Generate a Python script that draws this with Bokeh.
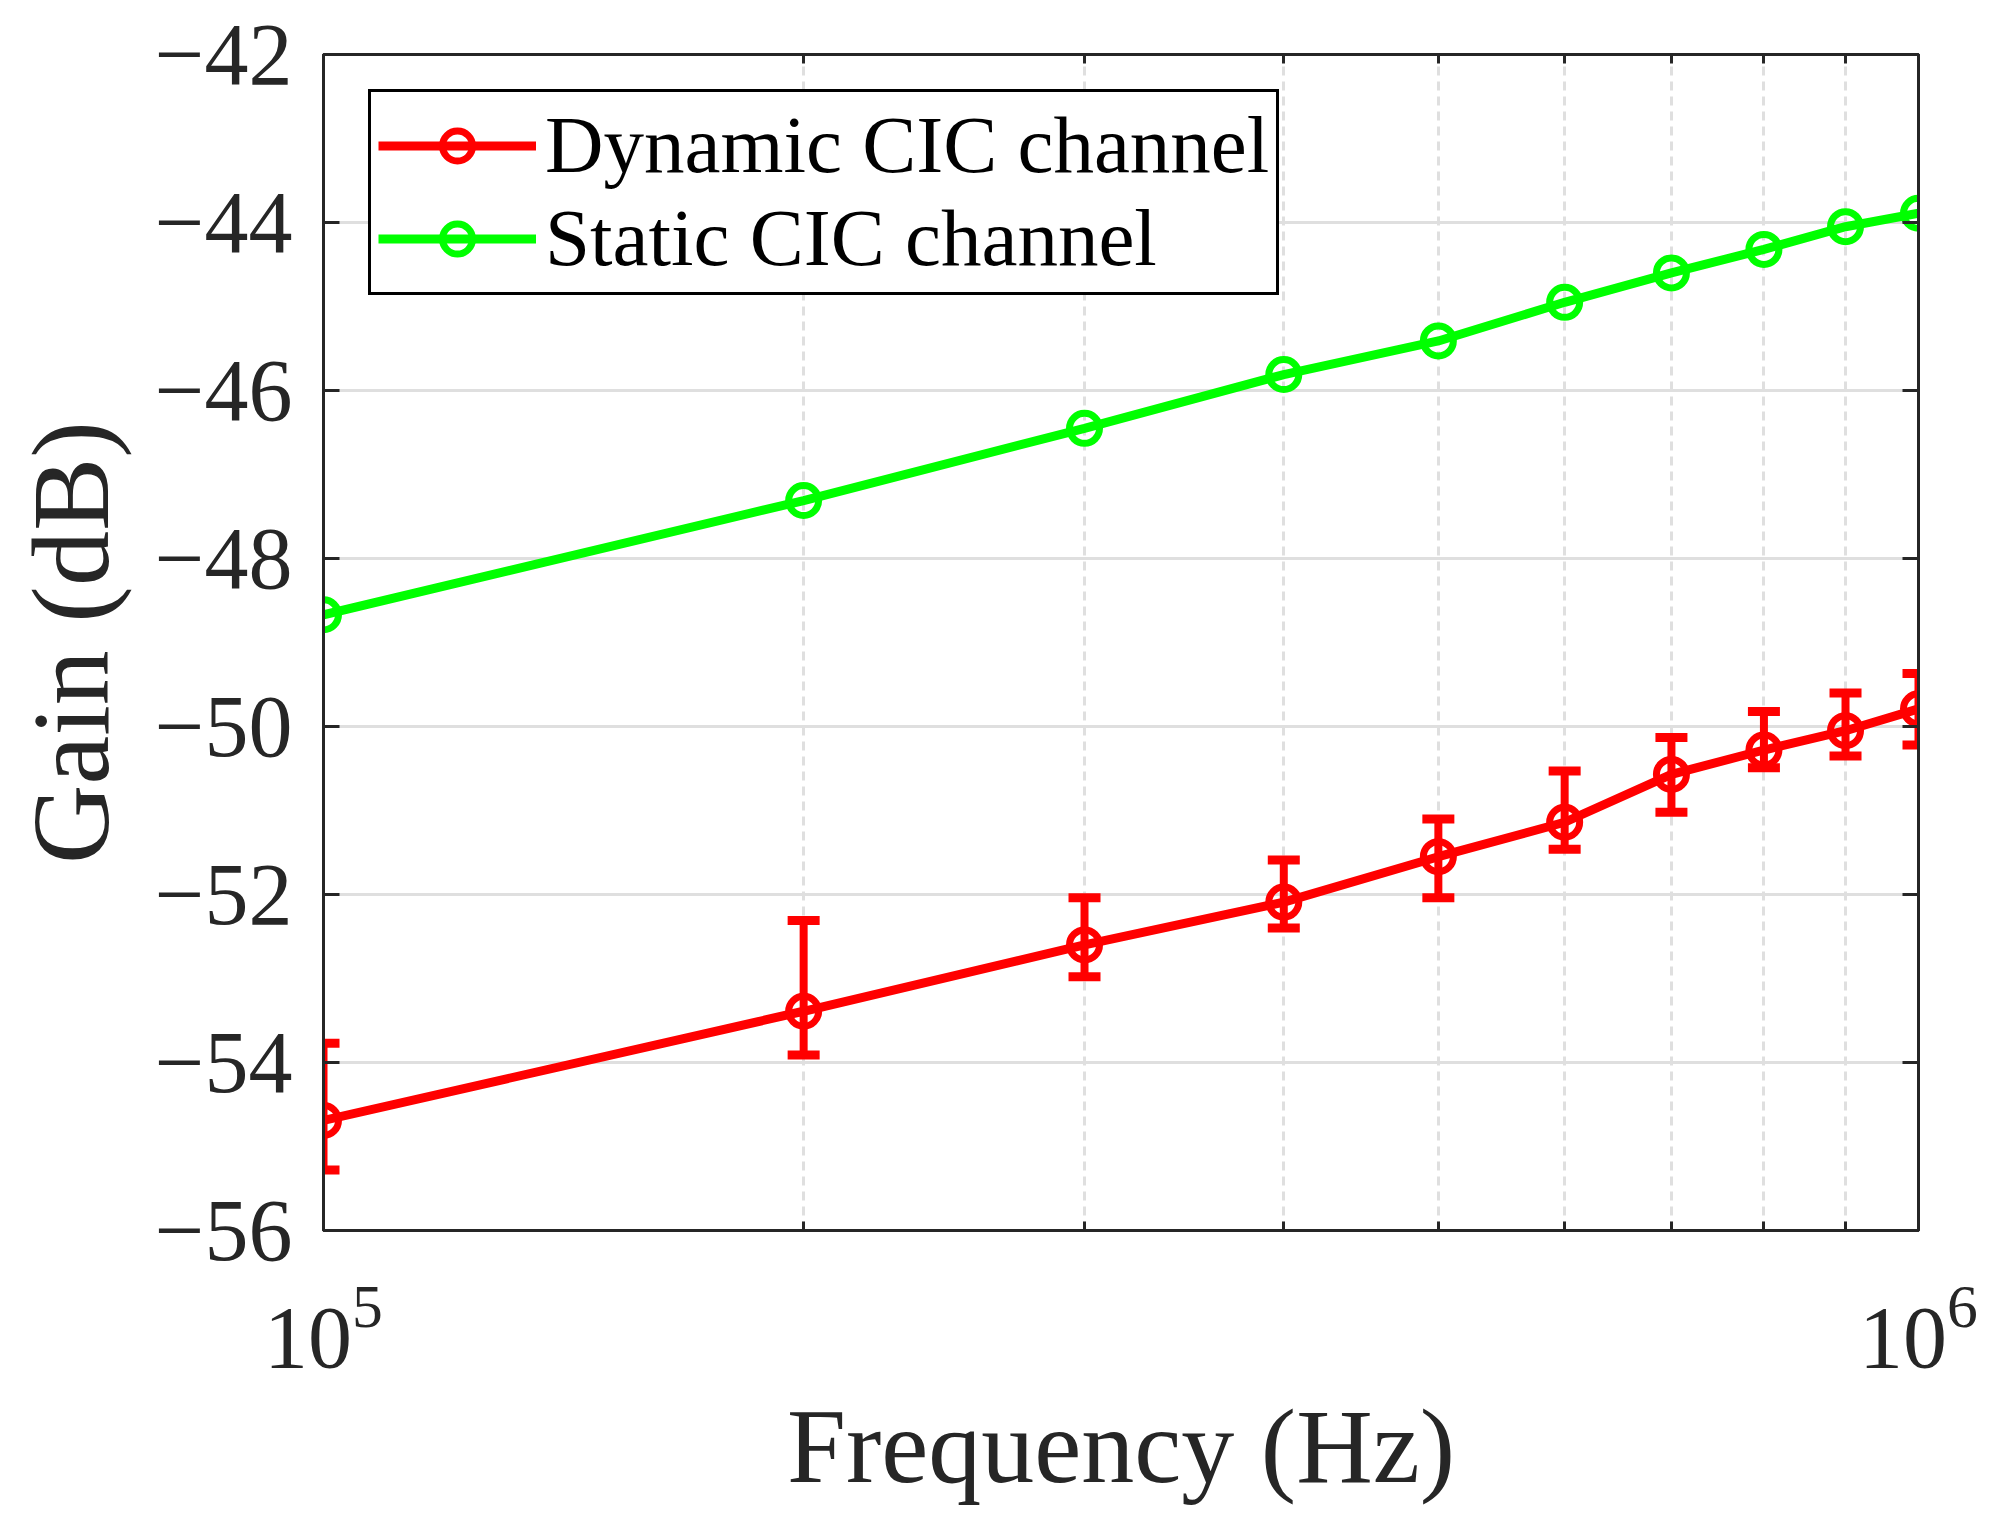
import numpy as np
from bokeh.plotting import figure
from bokeh.models import (FixedTicker, LinearAxis, LogAxis, CustomJSTickFormatter,
                          Legend, LegendItem, Range1d)
from bokeh.embed import file_html
from bokeh.resources import INLINE

# ---- data ----
freq_hz = [1e5, 2e5, 3e5, 4e5, 5e5, 6e5, 7e5, 8e5, 9e5, 1e6]
static_gain_db = [-48.67, -47.31, -46.45, -45.81, -45.41, -44.95, -44.60, -44.32, -44.05, -43.89]
dynamic_gain_db = [-54.69, -53.39, -52.60, -52.09, -51.55, -51.14, -50.57, -50.28, -50.05, -49.79]
dynamic_err_hi = [-53.77, -52.31, -52.04, -51.59, -51.10, -50.53, -50.13, -49.82, -49.60, -49.37]
dynamic_err_lo = [-55.28, -53.91, -52.98, -52.40, -52.04, -51.46, -51.02, -50.49, -50.35, -50.22]

x_major_ticks = [1e5, 1e6]
x_minor_ticks = [2e5, 3e5, 4e5, 5e5, 6e5, 7e5, 8e5, 9e5]
y_ticks = [-56, -54, -52, -50, -48, -46, -44, -42]

x_label = "Frequency (Hz)"
y_label = "Gain (dB)"
dyn_name = "Dynamic CIC channel"
sta_name = "Static CIC channel"

FONT = "Liberation Serif"
INK = "#262626"
RED = "#FF0000"
GREEN = "#00FF00"
GRID = "#DFDFDF"

p = figure(width=1998, height=1518, x_axis_type="log",
           x_range=Range1d(1e5, 1e6), y_range=Range1d(-56, -42),
           output_backend="svg", toolbar_location=None,
           min_border_left=323, min_border_right=80,
           min_border_top=54, min_border_bottom=288)

p.background_fill_color = "white"
p.border_fill_color = "white"
p.outline_line_color = INK
p.outline_line_width = 3

xt = FixedTicker(ticks=x_major_ticks, minor_ticks=x_minor_ticks)
yt = FixedTicker(ticks=y_ticks, minor_ticks=[])
yfmt = CustomJSTickFormatter(code="return (tick < 0 ? '\u2212' : '') + Math.abs(tick).toFixed(0);")

xa = p.xaxis[0]
xa.ticker = xt
ya = p.yaxis[0]
ya.ticker = yt
ya.formatter = yfmt

for ax in (xa, ya):
    ax.axis_line_color = INK
    ax.axis_line_width = 3
    ax.major_tick_line_color = INK
    ax.major_tick_line_width = 3
    ax.major_tick_in = 16
    ax.major_tick_out = 0
    ax.minor_tick_line_color = INK
    ax.minor_tick_line_width = 3
    ax.minor_tick_in = 9
    ax.minor_tick_out = 0
    ax.major_label_text_font = FONT
    ax.major_label_text_font_size = "88px"
    ax.major_label_text_color = INK
    ax.axis_label_text_font = FONT
    ax.axis_label_text_font_style = "normal"
    ax.axis_label_text_color = INK

ya.minor_tick_line_color = None
xa.axis_label = x_label
ya.axis_label = y_label
xa.axis_label_text_font_size = "106px"
ya.axis_label_text_font_size = "110px"
xa.major_label_standoff = 55
xa.axis_label_standoff = 18
ya.major_label_standoff = 31
ya.axis_label_standoff = 20

# mirrored axes (box on) with inward ticks, no labels
blank = CustomJSTickFormatter(code="return '';")
top = LogAxis(ticker=xt, formatter=blank)
right = LinearAxis(ticker=yt, formatter=blank)
for ax in (top, right):
    ax.axis_line_color = INK
    ax.axis_line_width = 3
    ax.major_tick_line_color = INK
    ax.major_tick_line_width = 3
    ax.major_tick_in = 16
    ax.major_tick_out = 0
    ax.minor_tick_line_color = INK
    ax.minor_tick_line_width = 3
    ax.minor_tick_in = 9
    ax.minor_tick_out = 0
    ax.major_label_text_font_size = "10px"
    ax.major_label_standoff = 0
right.minor_tick_line_color = None
p.add_layout(top, "above")
p.add_layout(right, "right")

# grids
p.ygrid.grid_line_color = GRID
p.ygrid.grid_line_width = 3
p.xgrid.grid_line_color = GRID
p.xgrid.grid_line_width = 3
p.xgrid.minor_grid_line_color = GRID
p.xgrid.minor_grid_line_width = 3
p.xgrid.minor_grid_line_dash = "9 6"

# static series
g_line = p.line(freq_hz, static_gain_db, line_color=GREEN, line_width=9)
g_mark = p.scatter(freq_hz, static_gain_db, marker="circle", size=30,
                   line_color=GREEN, line_width=7, fill_color=None)

# dynamic series
r_line = p.line(freq_hz, dynamic_gain_db, line_color=RED, line_width=9)
r_err = p.segment(x0=freq_hz, y0=dynamic_err_lo, x1=freq_hz, y1=dynamic_err_hi,
                  line_color=RED, line_width=8)
r_caps = p.scatter(freq_hz + freq_hz, dynamic_err_hi + dynamic_err_lo, marker="dash",
                   size=32, line_color=RED, line_width=9)
r_mark = p.scatter(freq_hz, dynamic_gain_db, marker="circle", size=30,
                   line_color=RED, line_width=7, fill_color=None)

legend = Legend(items=[
    LegendItem(label=dyn_name, renderers=[r_line, r_mark]),
    LegendItem(label=sta_name, renderers=[g_line, g_mark]),
], location=(45, 935))
legend.label_text_font = FONT
legend.label_text_font_size = "81px"
legend.label_text_color = "#000000"
legend.glyph_width = 158
legend.glyph_height = 75
legend.label_height = 75
legend.label_standoff = 9
legend.padding = 7
legend.spacing = 0
legend.margin = 0
legend.border_line_color = "#000000"
legend.border_line_width = 3
legend.border_line_alpha = 1.0
legend.background_fill_color = "white"
legend.background_fill_alpha = 1.0
p.add_layout(legend)

open("out.html", "w").write(file_html(p, INLINE))
